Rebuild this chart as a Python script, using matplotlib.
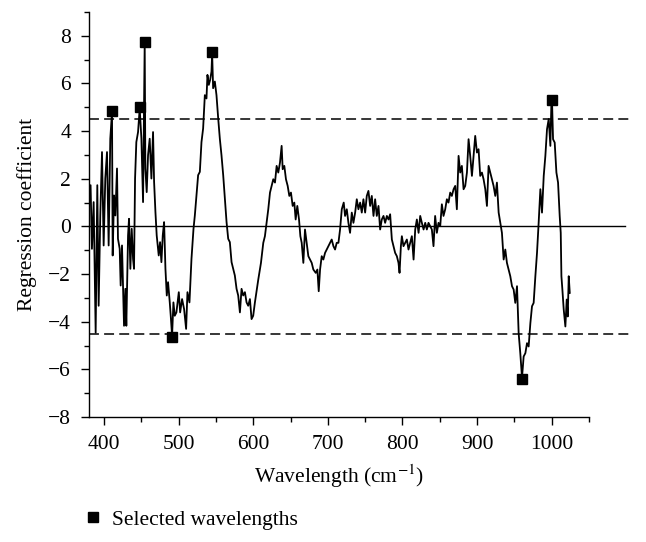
import numpy as np
import matplotlib.pyplot as plt
from matplotlib.lines import Line2D

plt.rcParams['font.family'] = ['Liberation Serif', 'DejaVu Serif']
plt.rcParams['mathtext.fontset'] = 'stix'

# regression coefficient curve
wavelength = [
    379.5, 382.1, 383.9, 386.2, 388.9, 391.1, 392.9, 395.1, 397.4, 399.6,
    401.8, 404.1, 406.3, 408.5, 410.8, 411.7, 413.5, 415.3, 417.5, 418.8,
    421.1, 422.4, 424.2, 426.9, 428.7, 430.0, 432.3, 433.6, 435.4, 437.2,
    439.0, 440.3, 441.7, 443.4, 445.7, 447.9, 450.2, 452.4, 454.6, 455.5,
    457.3, 459.1, 461.3, 463.6, 465.8, 467.2, 469.0, 470.7, 473.4, 475.2,
    477.0, 478.8, 480.6, 482.4, 484.2, 485.9, 488.2, 489.5, 491.3, 493.1,
    494.9, 497.1, 500.3, 502.1, 504.7, 507.4, 510.1, 511.9, 514.6, 517.3,
    520.0, 521.8, 524.0, 526.2, 528.5, 530.7, 532.9, 535.2, 537.4, 538.7,
    540.5, 542.3, 544.1, 545.0, 546.3, 548.6, 550.8, 553.1, 555.3, 557.5,
    559.8, 562.0, 564.3, 566.5, 568.7, 571.0, 573.2, 575.4, 577.7, 579.9,
    582.2, 584.4, 586.6, 588.9, 591.1, 593.3, 595.6, 597.8, 600.0, 602.3,
    606.8, 610.4, 613.5, 615.7, 618.0, 620.2, 622.5, 624.7, 626.9, 629.2,
    631.4, 633.6, 635.9, 638.1, 639.5, 641.7, 643.9, 646.2, 648.4, 650.6,
    652.9, 655.1, 656.9, 659.1, 661.4, 663.2, 665.0, 667.2, 669.4, 671.7,
    673.9, 676.1, 678.4, 680.6, 683.8, 686.0, 687.8, 689.6, 691.8, 694.0,
    696.3, 698.5, 700.8, 703.0, 705.2, 707.5, 709.7, 711.9, 714.2, 716.4,
    718.7, 721.3, 723.1, 725.4, 727.6, 729.8, 732.1, 734.3, 736.6, 738.8,
    741.0, 743.3, 745.5, 747.7, 750.0, 752.2, 754.4, 756.7, 758.9, 761.2,
    763.4, 765.6, 767.9, 770.1, 772.3, 774.6, 776.8, 779.1, 781.3, 783.5,
    785.8, 788.0, 790.2, 792.5, 794.7, 796.1, 797.9, 799.2, 801.4, 803.7,
    805.9, 808.1, 810.4, 812.6, 814.9, 817.1, 819.3, 821.6, 823.8, 826.0,
    828.3, 830.5, 832.7, 834.9, 837.1, 839.4, 841.6, 843.8, 846.1, 848.3,
    850.6, 852.8, 855.0, 857.3, 859.5, 861.7, 864.0, 866.2, 868.5, 870.7,
    872.9, 875.2, 877.4, 879.6, 881.9, 884.1, 886.4, 888.6, 890.8, 893.1,
    895.3, 897.5, 899.8, 902.0, 904.2, 906.5, 908.7, 911.0, 913.2, 915.4,
    917.7, 919.9, 922.1, 924.4, 926.6, 928.9, 931.1, 933.3, 935.6, 937.8,
    940.0, 942.3, 944.5, 946.8, 949.0, 951.2, 953.5, 955.7, 957.9, 960.2,
    962.4, 964.7, 966.9, 969.1, 971.4, 973.6, 975.8, 978.1, 980.3, 982.5,
    984.8, 987.0, 989.3, 991.5, 993.7, 996.0, 998.2, 999.6, 1000.4, 1001.8,
    1004.0, 1006.3, 1008.5, 1010.7, 1012.1, 1013.0, 1014.3, 1016.1, 1018.3, 1020.1,
    1021.5, 1022.8, 1024.2,
]
coefficient = [
    1.02, 1.73, -0.94, 1.02, -4.46, 1.73, -3.33, 0.46, 3.12, -0.80,
    2.01, 3.12, -0.80, 3.68, 4.80, -1.22, 1.30, 0.46, 2.43, -0.52,
    -0.94, -2.48, -0.80, -4.17, -2.62, -4.17, -0.38, 0.32, -1.78, -0.10,
    -1.36, -1.78, 2.01, 3.54, 3.96, 4.95, 3.68, 1.02, 7.70, 2.43,
    1.44, 2.99, 3.68, 2.01, 3.96, 1.87, 0.60, -0.38, -1.22, -0.66,
    -1.50, -0.38, 0.18, -1.78, -2.90, -2.34, -3.19, -3.75, -4.59, -3.19,
    -3.75, -3.61, -2.76, -3.61, -3.05, -3.47, -4.30, -2.76, -3.19, -1.36,
    -0.10, 0.46, 1.30, 2.15, 2.29, 3.54, 4.11, 5.51, 5.37, 6.36,
    5.94, 6.15, 6.50, 7.25, 5.80, 6.08, 5.51, 4.53, 3.68, 2.99,
    2.15, 1.16, 0.18, -0.52, -0.66, -1.50, -1.78, -2.06, -2.62, -2.90,
    -3.61, -2.62, -2.90, -2.76, -3.19, -3.33, -3.05, -3.89, -3.75, -3.19,
    -2.23, -1.53, -0.69, -0.41, 0.15, 0.72, 1.42, 1.70, 1.98, 1.84,
    2.54, 2.26, 2.68, 3.38, 2.40, 2.54, 1.98, 1.70, 1.28, 1.42,
    0.86, 1.00, 0.29, 0.86, 0.29, -0.41, -0.69, -1.53, -0.13, -0.69,
    -1.25, -1.39, -1.53, -1.81, -1.95, -1.81, -2.72, -1.81, -1.25, -1.39,
    -1.11, -0.97, -0.83, -0.69, -0.55, -0.83, -0.97, -0.69, -0.69, -0.13,
    0.72, 1.00, 0.44, 0.72, 0.15, -0.27, 0.58, 0.15, 0.58, 1.14,
    0.72, 1.00, 0.58, 1.14, 0.58, 1.28, 1.49, 0.86, 1.28, 0.44,
    1.14, 0.44, 0.86, -0.13, 0.29, 0.44, 0.15, 0.44, 0.29, 0.51,
    -0.55, -0.83, -1.11, -1.25, -1.53, -1.95, -0.83, -0.41, -0.83, -0.69,
    -0.55, -0.97, -0.69, -0.41, -1.39, -0.13, 0.29, -0.27, 0.44, 0.15,
    -0.13, 0.15, -0.13, 0.15, 0.01, -0.13, -0.83, 0.44, -0.27, 0.15,
    0.01, 0.93, 0.44, 0.72, 1.14, 1.00, 1.42, 1.28, 1.56, 1.70,
    0.72, 2.96, 2.26, 2.54, 1.56, 1.70, 2.26, 3.66, 2.96, 2.12,
    2.96, 3.80, 3.10, 3.24, 2.12, 2.26, 1.98, 1.56, 0.86, 2.54,
    2.26, 1.98, 1.70, 1.28, 1.84, 0.58, 0.15, -0.27, -1.39, -0.97,
    -1.53, -1.81, -2.09, -2.51, -2.65, -3.21, -2.51, -4.48, -5.32, -6.35,
    -5.46, -5.32, -4.90, -5.04, -4.06, -3.35, -3.21, -2.09, -1.11, 0.15,
    1.56, 0.58, 2.12, 2.96, 4.08, 4.51, 3.38, 5.21, 5.28, 3.66,
    3.52, 2.26, 1.84, 0.44, -0.27, -2.09, -2.65, -3.49, -4.20, -3.07,
    -3.78, -2.09, -2.79,
]

# selected wavelengths (square markers)
selected_wl = [410.8, 447.9, 454.6, 491.3, 545.0, 960.2, 1000.4]
selected_coef = [4.86, 5.00, 7.76, -4.66, 7.30, -6.41, 5.30]

threshold = 4.5

fig = plt.figure(figsize=(6.46, 5.42), dpi=100)
ax = fig.add_axes([0.1378, 0.2306, 0.774, 0.7473])

ax.plot(wavelength, coefficient, color='black', linewidth=1.3)
ax.plot(selected_wl, selected_coef, linestyle='none', marker='s',
        markersize=6.8, color='black')

# reference lines run a little past the right end of the axis
ax.plot([380, 1098], [0, 0], color='black', linewidth=1.0, clip_on=False)
for level in (threshold, -threshold):
    ax.plot([380, 1109], [level, level], color='black', linewidth=1.1,
            dashes=(6.5, 3.4), clip_on=False)

ax.set_xlim(380, 1050)
ax.set_ylim(-8, 9)
ax.set_xticks(np.arange(400, 1001, 100))
ax.set_xticks(np.arange(400, 1051, 50), minor=True)
ax.set_yticks(np.arange(-8, 9, 2))
ax.set_yticks(np.arange(-8, 10, 1), minor=True)

for side in ('top', 'right'):
    ax.spines[side].set_visible(False)
for side in ('left', 'bottom'):
    ax.spines[side].set_linewidth(1.0)

ax.tick_params(which='major', direction='out', length=6, width=1.0,
               labelsize=15.5)
ax.tick_params(axis='x', which='major', pad=7)
ax.tick_params(axis='y', which='major', pad=7)
ax.tick_params(which='minor', direction='out', length=3.5, width=1.0)

ax.set_xlabel('Wavelength (cm$^{-1}$)', fontsize=15.5, labelpad=6)
ax.set_ylabel('Regression coefficient', fontsize=15.5, labelpad=8)

handle = Line2D([], [], linestyle='none', marker='s', markersize=7,
                color='black')
fig.legend([handle], ['Selected wavelengths'], loc='lower left',
           bbox_to_anchor=(0.124, 0.023), frameon=False, fontsize=15.5,
           borderpad=0, borderaxespad=0, handletextpad=0.27,
           handlelength=1.2)

fig.savefig('out.png', dpi=100)
